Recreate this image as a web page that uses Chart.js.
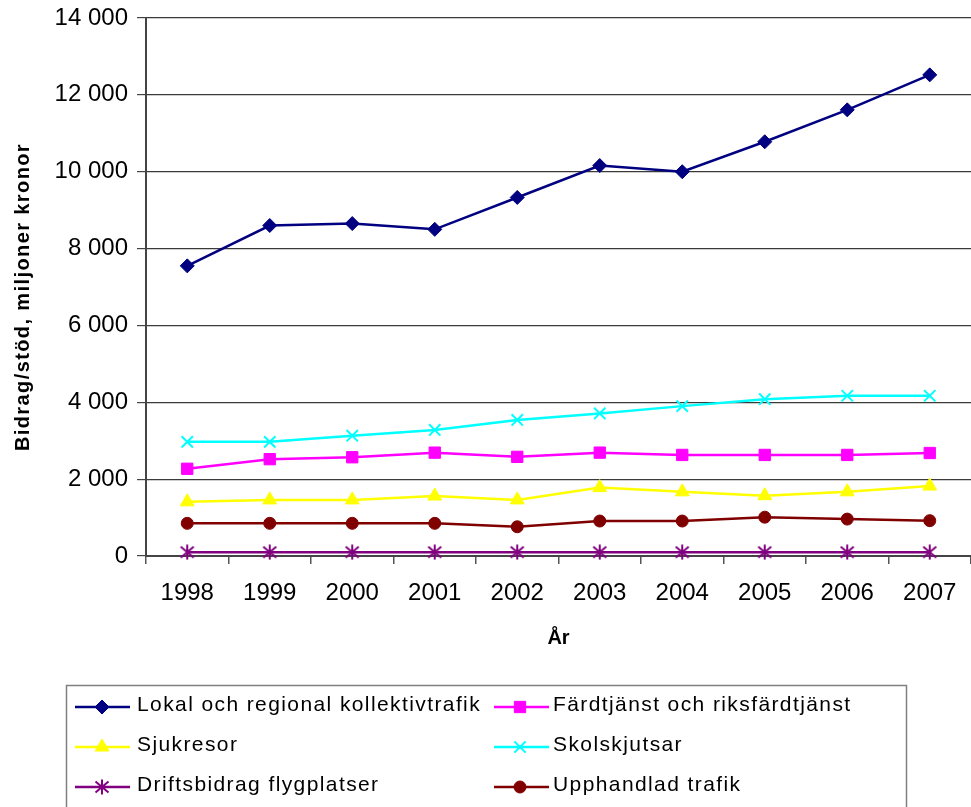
<!DOCTYPE html>
<html>
<head>
<meta charset="utf-8">
<script src="https://cdn.jsdelivr.net/npm/chart.js@4/dist/chart.umd.min.js"></script>
<style>
  html, body { margin: 0; padding: 0; background: #fff; }
  #wrap { width: 971px; height: 807px; position: relative; }
</style>
</head>
<body>
<div id="wrap"><canvas id="c" width="971" height="807"></canvas></div>
<script>
// Years on the x axis
const years = ['1998', '1999', '2000', '2001', '2002', '2003', '2004', '2005', '2006', '2007'];

// Contributions / support, million SEK
const lokalRegional = [7550, 8600, 8650, 8500, 9330, 10160, 10000, 10780, 11610, 12520];
const fardtjanst    = [2270, 2520, 2570, 2690, 2580, 2690, 2630, 2630, 2630, 2680];
const sjukresor     = [1410, 1460, 1460, 1560, 1460, 1780, 1670, 1570, 1670, 1820];
const skolskjutsar  = [2970, 2970, 3130, 3280, 3540, 3710, 3900, 4080, 4170, 4170];
const driftsbidrag  = [100, 100, 100, 100, 100, 100, 100, 100, 100, 100];
const upphandlad    = [850, 850, 850, 850, 760, 910, 910, 1010, 960, 920];

// Series names
const seriesNames = [
  'Lokal och regional kollektivtrafik',
  'Färdtjänst och riksfärdtjänst',
  'Sjukresor',
  'Skolskjutsar',
  'Driftsbidrag flygplatser',
  'Upphandlad trafik'
];

// Axis texts
const yTitle = 'Bidrag/stöd, miljoner kronor';
const xTitle = 'År';

const FONT = "'Liberation Sans', Arial, sans-serif";

// Asterisk marker drawn on a small offscreen canvas
function makeAsterisk(color) {
  const s = 16;
  const cv = document.createElement('canvas');
  cv.width = s; cv.height = s;
  const g = cv.getContext('2d');
  g.strokeStyle = color;
  g.lineWidth = 2;
  g.beginPath();
  g.moveTo(s / 2, 0.5); g.lineTo(s / 2, s - 0.5);
  g.moveTo(1.5, 2.5); g.lineTo(s - 1.5, s - 2.5);
  g.moveTo(1.5, s - 2.5); g.lineTo(s - 1.5, 2.5);
  g.stroke();
  return cv;
}
const asterisk = makeAsterisk('#800080');

function series(label, data, color, style, radius) {
  return {
    label, data,
    borderColor: color,
    backgroundColor: color,
    pointBackgroundColor: color,
    pointBorderColor: color,
    pointStyle: style,
    pointRadius: radius,
    pointHoverRadius: radius,
    pointBorderWidth: style === 'crossRot' ? 2 : 1,
    borderWidth: 2.5,
    tension: 0,
    fill: false,
    clip: false
  };
}

const datasets = [
  series(seriesNames[0], lokalRegional, '#000080', 'rectRot', 7),
  series(seriesNames[1], fardtjanst, '#FF00FF', 'rect', 8),
  series(seriesNames[2], sjukresor, '#FFFF00', 'triangle', 8),
  series(seriesNames[3], skolskjutsar, '#00FFFF', 'crossRot', 8),
  series(seriesNames[4], driftsbidrag, '#800080', asterisk, 8),
  series(seriesNames[5], upphandlad, '#800000', 'circle', 6)
];

function fmtThousands(v) {
  return String(v).replace(/\B(?=(\d{3})+(?!\d))/g, ' ');
}

// Legend box and axis titles drawn after the chart
const extras = {
  id: 'extras',
  afterDraw(chart) {
    const ctx = chart.ctx;
    ctx.save();

    // y axis title
    ctx.fillStyle = '#000';
    ctx.font = 'bold 20px ' + FONT;
    ctx.letterSpacing = '1.4px';
    ctx.textAlign = 'center';
    ctx.textBaseline = 'middle';
    ctx.save();
    ctx.translate(23, 297);
    ctx.rotate(-Math.PI / 2);
    ctx.fillText(yTitle, 0, 0);
    ctx.restore();

    // x axis title
    ctx.letterSpacing = '0px';
    ctx.fillText(xTitle, (chart.chartArea.left + chart.chartArea.right) / 2, 638);

    // legend frame
    ctx.strokeStyle = '#808080';
    ctx.lineWidth = 1.5;
    ctx.strokeRect(66.5, 685.5, 840, 130);

    // legend entries: two columns, three rows
    const cols = [{ l0: 75, l1: 130, m: 102, t: 137 }, { l0: 494, l1: 549, m: 520, t: 553 }];
    const rows = [707, 747, 787];
    ctx.font = '21px ' + FONT;
    ctx.letterSpacing = '1.4px';
    ctx.textAlign = 'left';
    chart.data.datasets.forEach((ds, i) => {
      const c = cols[i % 2];
      const y = rows[Math.floor(i / 2)];
      ctx.strokeStyle = ds.borderColor;
      ctx.lineWidth = 2.5;
      ctx.beginPath();
      ctx.moveTo(c.l0, y);
      ctx.lineTo(c.l1, y);
      ctx.stroke();
      ctx.fillStyle = ds.pointBackgroundColor;
      ctx.strokeStyle = ds.pointBorderColor;
      ctx.lineWidth = ds.pointBorderWidth;
      Chart.helpers.drawPoint(ctx, {
        pointStyle: ds.pointStyle,
        radius: ds.pointRadius,
        rotation: 0,
        borderWidth: ds.pointBorderWidth
      }, c.m, y);
      ctx.fillStyle = '#000';
      ctx.fillText(ds.label, c.t, y - 2);
    });
    ctx.restore();
  }
};

new Chart(document.getElementById('c'), {
  type: 'line',
  data: { labels: years, datasets },
  options: {
    responsive: false,
    animation: false,
    devicePixelRatio: 1,
    layout: { autoPadding: false, padding: { top: 18, left: 0, right: 0, bottom: 150 } },
    plugins: {
      legend: { display: false },
      tooltip: { enabled: false },
      title: { display: false }
    },
    scales: {
      x: {
        type: 'category',
        offset: true,
        grid: {
          offset: true,
          drawOnChartArea: false,
          drawTicks: true,
          tickLength: 8,
          color: '#555',
          lineWidth: 1.5
        },
        border: { display: true, color: '#444', width: 2 },
        ticks: {
          color: '#000',
          font: { family: FONT, size: 24 },
          padding: 15,
          maxRotation: 0,
          autoSkip: false
        },
        afterFit(scale) {
          scale.height = 101;
          scale.paddingLeft = 0;
          scale.paddingRight = 0;
        }
      },
      y: {
        min: 0,
        max: 14000,
        grid: {
          color: '#3a3a3a',
          lineWidth: 1.2,
          drawTicks: true,
          tickLength: 9,
          tickColor: '#444'
        },
        border: { display: true, color: '#444', width: 2 },
        ticks: {
          stepSize: 2000,
          color: '#000',
          font: { family: FONT, size: 24 },
          padding: 9,
          callback: (v) => fmtThousands(v)
        },
        afterFit(scale) {
          scale.width = 146;
          scale.paddingTop = 0;
          scale.paddingBottom = 0;
        }
      }
    }
  },
  plugins: [extras]
});
</script>
</body>
</html>
